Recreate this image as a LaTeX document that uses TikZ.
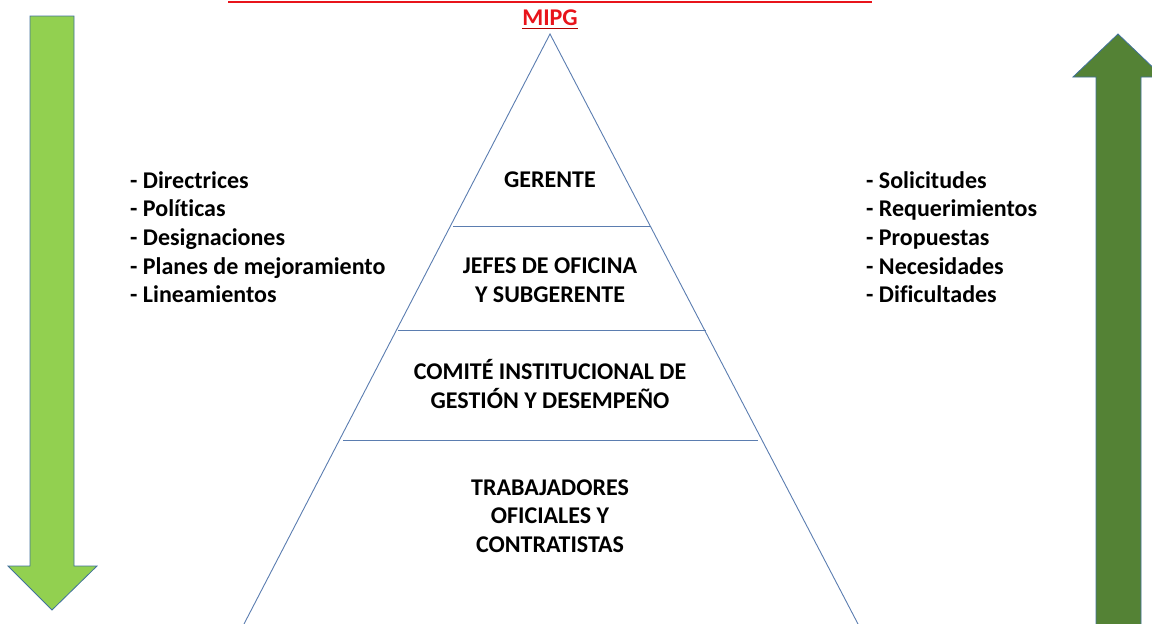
\documentclass[tikz,border=0pt]{standalone}
\usepackage{fontspec}
\setmainfont[Ligatures=NoCommon]{Carlito}
\definecolor{lgreen}{HTML}{92D050}
\definecolor{dgreen}{HTML}{548235}
\definecolor{edgeblue}{HTML}{41719C}
\definecolor{pyrline}{HTML}{5B7DB0}
\definecolor{mred}{HTML}{E8141B}
\begin{document}
\begin{tikzpicture}[x=1pt,y=-1pt,
  lbl/.style={font=\fontsize{24}{28.7}\selectfont\bfseries, align=center, inner sep=0pt},
  lst/.style={font=\fontsize{24}{28.7}\selectfont\bfseries, align=left, anchor=north west, inner sep=0pt},
  pyr/.style={draw=pyrline, line width=0.9pt},
  arr/.style={draw=edgeblue, line width=0.8pt}]
\useasboundingbox (0,0) rectangle (1152,624);
% top red line
\coordinate (rl) at (228,2);
\coordinate (rr) at (872,2);
\draw[mred, line width=2pt] (rl) -- (rr);
\node[font=\fontsize{24}{28}\selectfont\bfseries, text=mred, inner sep=0pt] (mipg) at (550,18) {MIPG};
\coordinate (ul) at ([yshift=-2.5pt]mipg.south west);
\coordinate (ur) at ([yshift=-2.5pt]mipg.south east);
\draw[red!70!black, line width=1.4pt] (ul) -- (ur);
% pyramid
\coordinate (apex) at (550,34);
\coordinate (bl) at (244,624);
\coordinate (br) at (858,624);
\draw[pyr] (bl) -- (apex) -- (br);
\coordinate (d1l) at (453,226); \coordinate (d1r) at (650,226);
\coordinate (d2l) at (398,330); \coordinate (d2r) at (706,330);
\coordinate (d3l) at (343,440); \coordinate (d3r) at (758,440);
\draw[pyr] (d1l) -- (d1r);
\draw[pyr] (d2l) -- (d2r);
\draw[pyr] (d3l) -- (d3r);
\node[lbl] (g) at (550,180) {GERENTE};
\node[lbl] (j) at (550,280) {JEFES DE OFICINA\\Y SUBGERENTE};
\node[lbl] (c) at (550,384) {COMITÉ INSTITUCIONAL DE\\GESTIÓN Y DESEMPEÑO};
\node[lbl] (t) at (550,516) {TRABAJADORES\\OFICIALES Y\\CONTRATISTAS};
% lists
\node[lst] (ll) at (130,171) {- Directrices\\- Políticas\\- Designaciones\\- Planes de mejoramiento\\- Lineamientos};
\node[lst] (rlst) at (866,171) {- Solicitudes\\- Requerimientos\\- Propuestas\\- Necesidades\\- Dificultades};
% left arrow (down)
\draw[arr, fill=lgreen] (30,16) -- (74,16) -- (74,566) -- (97,566) -- (52,610) -- (8,566) -- (30,566) -- cycle;
% right arrow (up)
\draw[arr, fill=dgreen] (1096,640) -- (1096,77) -- (1073,77) -- (1118,34) -- (1163,77) -- (1141,77) -- (1141,640) -- cycle;
\end{tikzpicture}
\end{document}
